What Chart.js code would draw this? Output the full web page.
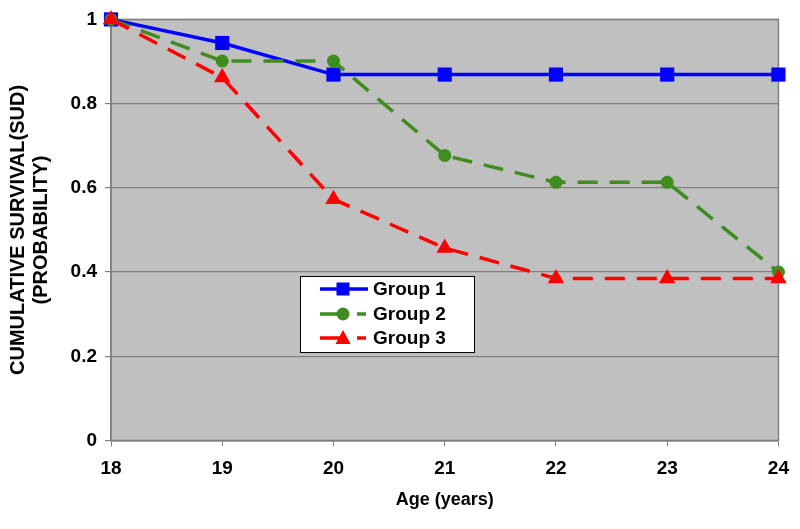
<!DOCTYPE html>
<html>
<head>
<meta charset="utf-8">
<script src="https://cdn.jsdelivr.net/npm/chart.js@4.4.1/dist/chart.umd.min.js"></script>
<style>
  html, body { margin: 0; padding: 0; background: #ffffff; }
  #wrap { width: 800px; height: 529px; }
</style>
</head>
<body>
<div id="wrap"><canvas id="c" width="800" height="529"></canvas></div>
<script>
const ages = ['18', '19', '20', '21', '22', '23', '24'];
const group1 = [1, 0.944, 0.869, 0.869, 0.869, 0.869, 0.869];
const group2 = [1, 0.901, 0.901, 0.677, 0.613, 0.613, 0.400];
const group3 = [1, 0.862, 0.573, 0.457, 0.385, 0.385, 0.385];
const seriesNames = ['Group 1', 'Group 2', 'Group 3'];
const yTitle = ['CUMULATIVE SURVIVAL(SUD)', '(PROBABILITY)'];
const xTitle = 'Age (years)';

const FONT = "'Liberation Sans', Arial, Helvetica, sans-serif";

const plotBg = {
  id: 'plotBg',
  beforeDraw(chart) {
    const {ctx, chartArea: a} = chart;
    ctx.save();
    ctx.fillStyle = '#c0c0c0';
    ctx.fillRect(a.left, a.top, a.right - a.left, a.bottom - a.top);
    ctx.restore();
  },
  beforeDatasetsDraw(chart) {
    const {ctx, chartArea: a} = chart;
    ctx.save();
    ctx.strokeStyle = '#808080';
    ctx.lineWidth = 1.5;
    ctx.strokeRect(a.left, a.top, a.right - a.left, a.bottom - a.top);
    ctx.restore();
  }
};

const boxLegend = {
  id: 'boxLegend',
  afterDatasetsDraw(chart) {
    const {ctx} = chart;
    const x0 = 300, y0 = 276, w = 174, h = 76;
    ctx.save();
    ctx.fillStyle = '#ffffff';
    ctx.fillRect(x0, y0, w, h);
    ctx.strokeStyle = '#000000';
    ctx.lineWidth = 1;
    ctx.strokeRect(x0 + 0.5, y0 + 0.5, w, h);
    const rows = [289, 314, 338];
    const mx = 343;
    chart.data.datasets.forEach((ds, i) => {
      const cy = rows[i];
      ctx.strokeStyle = ds.borderColor;
      ctx.lineWidth = ds.borderWidth;
      ctx.beginPath();
      if (ds.borderDash) {
        ctx.moveTo(320, cy); ctx.lineTo(mx, cy);
        ctx.moveTo(357, cy); ctx.lineTo(366, cy);
      } else {
        ctx.moveTo(320, cy); ctx.lineTo(368, cy);
      }
      ctx.stroke();
      ctx.fillStyle = ds.backgroundColor;
      ctx.beginPath();
      if (ds.pointStyle === 'rect') {
        ctx.rect(mx - 6.5, cy - 6.5, 13, 13);
      } else if (ds.pointStyle === 'circle') {
        ctx.arc(mx, cy, 6.5, 0, Math.PI * 2);
      } else {
        ctx.moveTo(mx, cy - 8);
        ctx.lineTo(mx + 7.5, cy + 6);
        ctx.lineTo(mx - 7.5, cy + 6);
        ctx.closePath();
      }
      ctx.fill();
      ctx.fillStyle = '#000000';
      ctx.font = "bold 19px " + FONT;
      ctx.textBaseline = 'middle';
      ctx.textAlign = 'left';
      ctx.fillText(ds.label, 373, cy + 1);
    });
    ctx.restore();
  }
};

new Chart(document.getElementById('c'), {
  type: 'line',
  data: {
    labels: ages,
    datasets: [
      {
        label: seriesNames[0], data: group1,
        borderColor: '#0000ff', backgroundColor: '#0000ff',
        borderWidth: 3.5, pointStyle: 'rect', pointRadius: 10,
        pointBorderWidth: 0, tension: 0, clip: false, order: 3
      },
      {
        label: seriesNames[1], data: group2,
        borderColor: '#3f8c1f', backgroundColor: '#3f8c1f',
        borderWidth: 3.5, borderDash: [20, 12], pointStyle: 'circle', pointRadius: 6.5,
        pointBorderWidth: 0, tension: 0, clip: false, order: 2
      },
      {
        label: seriesNames[2], data: group3,
        borderColor: '#ff0000', backgroundColor: '#ff0000',
        borderWidth: 3.5, borderDash: [20, 12], pointStyle: 'triangle', pointRadius: 9.5,
        pointBorderWidth: 0, tension: 0, clip: false, order: 1
      }
    ]
  },
  options: {
    responsive: false,
    animation: false,
    devicePixelRatio: 1,
    layout: { padding: { left: 0, top: 19, right: 16, bottom: 0 } },
    plugins: {
      legend: { display: false },
      tooltip: { enabled: false }
    },
    scales: {
      x: {
        type: 'category',
        offset: false,
        afterFit(scale) { scale.height = 88.5; },
        grid: { drawOnChartArea: false, drawTicks: true, tickLength: 6, color: '#808080', lineWidth: 1 },
        border: { display: true, color: '#808080', width: 1.5 },
        ticks: { color: '#000000', padding: 11, maxRotation: 0, font: { family: FONT, size: 19, weight: 'bold' } },
        title: { display: true, text: xTitle, color: '#000000', padding: { top: 0, bottom: 18 }, font: { family: FONT, size: 18, weight: 'bold' } }
      },
      y: {
        min: 0, max: 1,
        afterFit(scale) { scale.width = 111; },
        grid: { drawOnChartArea: true, drawTicks: true, tickLength: 6, color: '#808080', lineWidth: 1.2 },
        border: { display: true, color: '#808080', width: 1.5 },
        ticks: {
          stepSize: 0.2, color: '#000000', padding: 8,
          font: { family: FONT, size: 19, weight: 'bold' },
          callback: (v) => String(Number(v.toFixed(2)))
        },
        title: { display: true, text: yTitle, color: '#000000', padding: { top: 7, bottom: 0 }, font: { family: FONT, size: 20, weight: 'bold', lineHeight: 1.15 } }
      }
    }
  },
  plugins: [plotBg, boxLegend]
});
</script>
</body>
</html>
